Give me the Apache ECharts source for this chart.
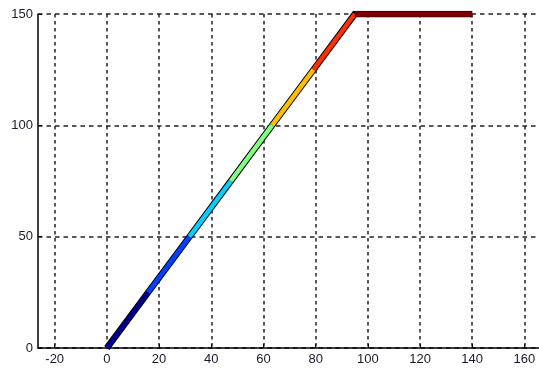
<!DOCTYPE html>
<html><head><meta charset="utf-8">
<script src="https://cdn.jsdelivr.net/npm/echarts@6/dist/echarts.min.js"></script>
<style>html,body{margin:0;padding:0;background:#fff}#c{width:539px;height:372px}</style>
</head><body><div id="c"></div>
<script>
var segX = [0, 15.8, 31.7, 47.5, 63.3, 79.2, 95, 140];
var segY = [0, 25, 50, 75, 100, 125, 150, 150];
var segColors = ['#00008f', '#0040ff', '#00cfff', '#80ff80', '#ffbf00', '#ff3000', '#800000'];
var xTicks = [-20, 0, 20, 40, 60, 80, 100, 120, 140, 160];
var yTicks = [0, 50, 100, 150];

var series = [];
var all = [];
for (var i = 0; i < segX.length; i++) all.push([segX[i], segY[i]]);
series.push({type:'line', data: all, symbol:'none', silent:true,
  lineStyle:{color:'#000', width:6.5, cap:'butt', join:'miter'}, z:3});
for (var i = 0; i < segX.length - 1; i++) {
  var flat = segY[i] === segY[i+1];
  series.push({type:'line', symbol:'none', silent:true,
    data:[[segX[i], segY[i]], [segX[i+1], segY[i+1]]],
    lineStyle:{color:segColors[i], width: flat ? 5.5 : 4.5, cap:'butt'}, z:4});
}
var chart = echarts.init(document.getElementById('c'));
chart.setOption({
  animation:false,
  backgroundColor:'#fff',
  grid:{left:38, right:0, top:14, bottom:24},
  xAxis:{type:'value', min:-26.4, max:165.6,
    axisLine:{show:true, onZero:false, lineStyle:{color:'#000', width:1.5}},
    axisTick:{show:true, inside:true, length:4, customValues:xTicks, lineStyle:{color:'#000'}},
    axisLabel:{customValues:xTicks, color:'#1a1a2a', fontFamily:'Liberation Sans, Arial', fontSize:13, margin:5},
    splitLine:{show:true, lineStyle:{color:'#222', type:[3.5,3.5], width:1.5}}},
  yAxis:{type:'value', min:0, max:150, interval:50,
    axisLine:{show:true, onZero:false, lineStyle:{color:'#000', width:1.5}},
    axisTick:{show:true, inside:true, length:4, lineStyle:{color:'#000'}},
    axisLabel:{color:'#1a1a2a', fontFamily:'Liberation Sans, Arial', fontSize:13, margin:5,
      customValues:yTicks},
    splitLine:{show:true, lineStyle:{color:'#222', type:[4.5,4], width:1.5}}},
  series: series
});
</script></body></html>
